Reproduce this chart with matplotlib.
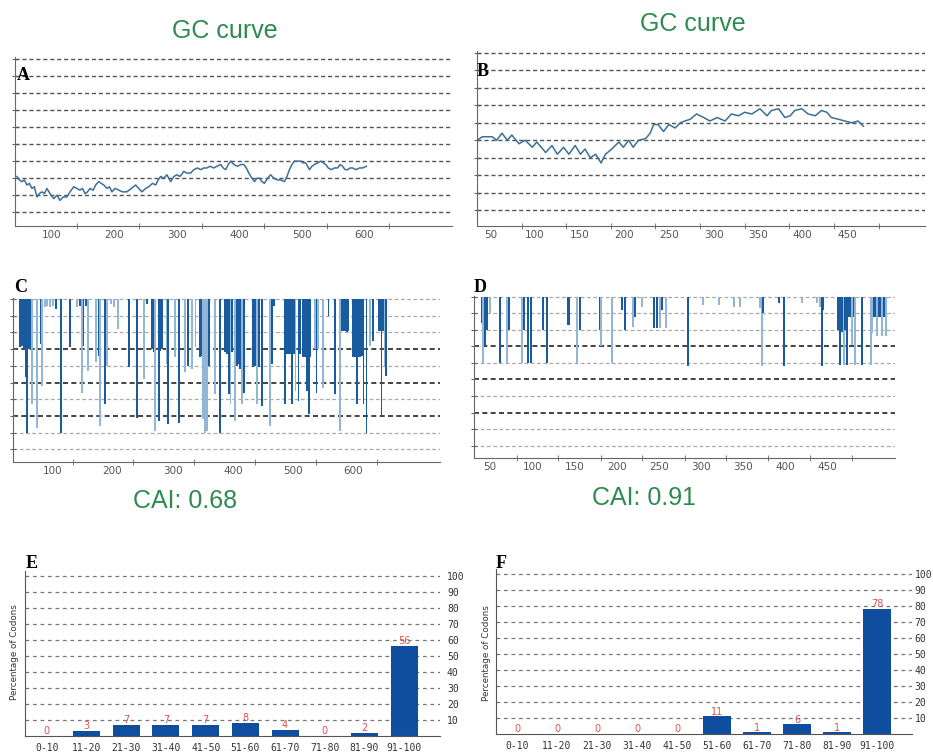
import matplotlib
matplotlib.use('Agg')
import matplotlib.pyplot as plt

# ---- data ----
gc_a_x = [44, 48, 52, 56, 60, 64, 68, 72, 76, 80, 84, 88, 92, 97, 103, 108, 113, 118, 124, 129,
          135, 140, 145, 149, 153, 157, 161, 166, 170, 175, 179, 183, 188, 192, 196, 201, 207, 213, 220, 227,
          234, 239, 244, 250, 255, 261, 266, 270, 274, 279, 284, 287, 290, 295, 300, 305, 311, 316, 322, 327,
          333, 338, 343, 348, 353, 359, 364, 370, 374, 378, 382, 386, 391, 397, 402, 407, 411, 415, 420, 424,
          428, 432, 436, 440, 445, 450, 455, 461, 466, 472, 476, 480, 484, 488, 493, 498, 502, 506, 509, 512,
          516, 520, 525, 530, 534, 538, 542, 547, 552, 557, 561, 565, 569, 573, 577, 581, 586, 592, 597, 603]
gc_a_y = [31, 29, 28, 29, 26, 27, 24, 25, 19, 21, 22, 21, 24, 21, 18, 20, 17, 19, 19, 22,
          25, 24, 23, 24, 21, 22, 24, 23, 26, 28, 27, 26, 24, 25, 22, 24, 23, 22, 22, 24,
          26, 24, 22, 24, 25, 27, 26, 29, 31, 30, 32, 30, 28, 31, 32, 31, 34, 33, 33, 35,
          36, 35, 36, 36, 37, 36, 37, 38, 36, 35, 38, 40, 38, 37, 38, 38, 36, 33, 30, 28,
          30, 30, 28, 27, 30, 32, 30, 29, 29, 28, 31, 35, 38, 40, 40, 40, 39, 39, 37, 35,
          37, 38, 39, 40, 39, 38, 36, 35, 36, 36, 38, 37, 35, 35, 36, 36, 35, 36, 36, 37]

gc_b_x = [35, 41, 46, 52, 57, 63, 69, 74, 82, 89, 97, 102, 112, 119, 125, 132, 138, 145, 151, 156,
          162, 168, 174, 179, 186, 194, 199, 205, 210, 216, 224, 229, 233, 238, 244, 250, 257, 263, 268, 274,
          281, 289, 296, 304, 313, 320, 328, 335, 343, 352, 360, 365, 373, 380, 386, 391, 399, 406, 414, 421,
          427, 432, 440, 447, 455, 462, 468]
gc_b_y = [50, 52, 52, 52, 50, 54, 50, 53, 48, 50, 46, 49, 43, 47, 42, 46, 42, 47, 42, 45,
          40, 42, 37, 42, 45, 49, 46, 50, 46, 50, 51, 54, 59, 59, 55, 59, 57, 60, 61, 62,
          65, 63, 61, 63, 61, 65, 64, 66, 65, 68, 64, 67, 68, 63, 64, 67, 68, 65, 64, 67,
          66, 63, 62, 61, 60, 61, 58]

# codon adaptation plots: position, lowest value, dark(1)/light(0)
c_pos = [47, 50, 53, 56, 58, 61, 64, 67, 75, 81, 83, 88, 92, 97, 102, 106, 115, 130, 141, 146,
         150, 152, 156, 159, 173, 177, 180, 188, 191, 198, 203, 210, 227, 241, 252, 257, 266, 269, 271, 277,
         280, 282, 291, 293, 304, 310, 321, 325, 332, 338, 346, 348, 351, 354, 357, 360, 371, 379, 387, 390,
         393, 396, 398, 404, 407, 410, 412, 415, 418, 434, 437, 440, 443, 448, 462, 465, 468, 487, 490, 493,
         496, 498, 501, 504, 509, 512, 517, 520, 523, 526, 528, 537, 539, 542, 550, 559, 570, 578, 581, 584,
         586, 589, 592, 600, 603, 606, 609, 611, 614, 617, 622, 628, 633, 642, 645, 647, 650, 653, 655]
c_low = [0.71, 0.72, 0.70, 0.53, 0.20, 0.70, 0.70, 0.37, 0.23, 0.73, 0.48, 0.95, 0.96, 0.95, 0.96, 0.94, 0.20, 0.71, 0.95, 0.96,
         0.44, 0.72, 0.96, 0.57, 0.62, 0.66, 0.24, 0.37, 0.60, 0.97, 0.95, 0.82, 0.59, 0.29, 0.52, 0.97, 0.70, 0.68, 0.21, 0.27,
         0.69, 0.70, 0.61, 0.25, 0.65, 0.26, 0.56, 0.60, 0.58, 0.71, 0.65, 0.66, 0.28, 0.20, 0.21, 0.60, 0.43, 0.20, 0.68, 0.67,
         0.43, 0.37, 0.68, 0.27, 0.60, 0.61, 0.58, 0.37, 0.44, 0.59, 0.60, 0.37, 0.59, 0.36, 0.24, 0.61, 0.96, 0.37, 0.67, 0.67,
         0.67, 0.37, 0.67, 0.45, 0.39, 0.67, 0.65, 0.65, 0.45, 0.31, 0.65, 0.70, 0.44, 0.70, 0.47, 0.90, 0.43, 0.21, 0.81, 0.81,
         0.81, 0.80, 0.81, 0.65, 0.65, 0.37, 0.65, 0.65, 0.66, 0.37, 0.20, 0.72, 0.75, 0.81, 0.81, 0.30, 0.81, 0.59, 0.54]
c_dark = [1, 1, 1, 1, 1, 1, 1, 0, 0, 1, 0, 0, 0, 0, 0, 1, 1, 1, 0, 1,
          0, 1, 1, 0, 0, 1, 0, 1, 0, 0, 0, 0, 1, 1, 0, 1, 1, 1, 0, 1,
          1, 1, 0, 1, 0, 1, 0, 1, 0, 0, 1, 1, 0, 0, 0, 1, 0, 1, 1, 1,
          1, 0, 1, 0, 1, 1, 1, 0, 1, 1, 1, 0, 1, 1, 0, 1, 1, 1, 1, 1,
          1, 1, 1, 0, 1, 1, 1, 1, 1, 1, 1, 0, 1, 0, 0, 1, 1, 0, 1, 1,
          1, 1, 1, 1, 1, 1, 1, 1, 1, 1, 1, 0, 1, 1, 1, 1, 1, 0, 1]

d_pos = [40, 42, 44, 46, 50, 62, 70, 72, 88, 90, 95, 99, 113, 117, 143, 153, 157, 180, 182, 194,
         206, 210, 220, 222, 230, 244, 248, 252, 254, 258, 285, 303, 321, 339, 346, 370, 372, 374, 392, 398,
         420, 437, 441, 443, 445, 463, 465, 467, 469, 471, 473, 475, 477, 479, 481, 483, 491, 501, 503, 505,
         507, 509, 511, 513, 515, 517, 519]
d_low = [0.84, 0.60, 0.70, 0.80, 0.90, 0.60, 0.60, 0.80, 0.60, 0.80, 0.60, 0.60, 0.80, 0.60, 0.83, 0.60, 0.80, 0.80, 0.70, 0.60,
         0.92, 0.80, 0.82, 0.88, 0.94, 0.81, 0.81, 0.81, 0.92, 0.81, 0.58, 0.95, 0.95, 0.94, 0.94, 0.93, 0.58, 0.90, 0.96, 0.58,
         0.96, 0.96, 0.94, 0.58, 0.92, 0.80, 0.59, 0.79, 0.59, 0.80, 0.59, 0.88, 0.88, 0.71, 0.88, 0.59, 0.59, 0.59, 0.78, 0.88,
         0.88, 0.76, 0.88, 0.88, 0.76, 0.88, 0.76]
d_dark = [1, 0, 1, 1, 0, 1, 0, 1, 0, 1, 1, 1, 1, 1, 1, 0, 1, 1, 0, 0,
          1, 1, 0, 1, 0, 1, 1, 0, 1, 0, 1, 0, 0, 0, 0, 0, 0, 1, 1, 1,
          0, 0, 0, 1, 1, 1, 1, 1, 0, 1, 1, 1, 1, 0, 1, 0, 1, 0, 0, 1,
          1, 0, 1, 1, 0, 1, 0]

bins = ['0-10', '11-20', '21-30', '31-40', '41-50', '51-60', '61-70', '71-80', '81-90', '91-100']
pct_e = [0, 3, 7, 7, 7, 8, 4, 0, 2, 56]
pct_f = [0, 0, 0, 0, 0, 11, 1, 6, 1, 78]

W, H = 933, 752
GREEN = '#2e8b50'
LINE = '#3c6f96'
DARK = '#1a5a9e'
LIGHT = '#92b6d8'
BAR = '#0f4e9e'

fig = plt.figure(figsize=(W / 100, H / 100), dpi=100)


def box(l, t, r, b):
    return [l / W, 1 - b / H, (r - l) / W, (b - t) / H]


def txt(x, y, s, **kw):
    fig.text(x / W, 1 - y / H, s, **kw)


def base(ax, xlim, ylim, labels, marks, grid):
    ax.set_xlim(xlim)
    ax.set_ylim(ylim)
    for s in ['top', 'right']:
        ax.spines[s].set_visible(False)
    for s in ['left', 'bottom']:
        ax.spines[s].set_color('#666')
    ax.set_xticks(labels)
    ax.tick_params(axis='x', which='major', length=0, labelsize=7.5, labelcolor='#555', pad=3)
    ax.set_xticks(marks, minor=True)
    ax.tick_params(axis='x', which='minor', length=4, direction='inout', color='#666')
    ax.set_yticks(grid)
    ax.set_yticklabels([])
    ax.tick_params(axis='y', length=4, direction='inout', color='#666')


# ---- A / B: GC curves ----
grid_gc = [10, 20, 30, 40, 50, 60, 70, 80, 90, 100]
ax = fig.add_axes(box(15, 57, 452, 226))
base(ax, (41, 740), (2, 101), [100, 200, 300, 400, 500, 600], [140, 240, 340, 440, 540, 640], grid_gc)
for g in grid_gc:
    ax.axhline(g, color='#555', ls=(0, (3, 2)), lw=1)
ax.plot(gc_a_x, gc_a_y, color=LINE, lw=1.1)

ax = fig.add_axes(box(477, 51, 925, 226))
base(ax, (35, 537), (1, 101), [50, 100, 150, 200, 250, 300, 350, 400, 450],
     [85, 135, 185, 235, 285, 335, 385, 435, 485], grid_gc)
for g in grid_gc:
    ax.axhline(g, color='#555', ls=(0, (3, 2)), lw=1)
ax.plot(gc_b_x, gc_b_y, color=LINE, lw=1.1)

# ---- C / D: codon adaptation ----
grid_cai = [0.1, 0.2, 0.3, 0.4, 0.5, 0.6, 0.7, 0.8, 0.9, 1.0]


def cai_panel(rect, xlim, labels, marks, pos, low, dark, width):
    ax = fig.add_axes(rect)
    base(ax, xlim, (0.025, 1.005), labels, marks, grid_cai)
    for g in grid_cai:
        strong = round(g, 1) in (0.3, 0.5, 0.7)
        ax.axhline(g, color='#222' if strong else '#aaa', ls=(0, (3, 2)),
                   lw=1.2 if strong else 0.9, zorder=0)
    cols = [DARK if d else LIGHT for d in dark]
    hts = [1.0 - v for v in low]
    ax.bar(pos, hts, bottom=low, width=width, color=cols, edgecolor='none', zorder=2)
    return ax


cai_panel(box(13, 298, 440, 462), (35, 744), [100, 200, 300, 400, 500, 600],
          [134, 235, 336, 437, 538, 640], c_pos, c_low, c_dark, 3.0)
cai_panel(box(474, 296, 895, 458), (31, 530), [50, 100, 150, 200, 250, 300, 350, 400, 450],
          [82, 131, 181, 230, 281, 330, 379, 429, 479], d_pos, d_low, d_dark, 2.4)

# ---- E / F: codon percentage bars ----


def pct_panel(rect, xlim, vals, ypad):
    ax = fig.add_axes(rect)
    ax.set_xlim(xlim)
    ax.set_ylim(0, 103)
    for s in ['top', 'right']:
        ax.spines[s].set_visible(False)
    for s in ['left', 'bottom']:
        ax.spines[s].set_color('#555')
    for g in grid_gc:
        ax.axhline(g, color='#777', ls=(0, (3, 3)), lw=0.9, zorder=0)
    ax.bar(range(len(vals)), vals, width=0.68, color=BAR, zorder=2)
    for i, v in enumerate(vals):
        ax.text(i, v + 3, str(v), ha='center', va='center', fontsize=7, color='#d9534f')
    ax.set_xticks(range(len(bins)))
    ax.set_xticklabels(bins, family='DejaVu Sans Mono', fontsize=7, color='#333')
    ax.tick_params(axis='x', length=0, pad=5)
    ax.yaxis.tick_right()
    ax.set_yticks(grid_gc)
    ax.set_yticklabels([str(g) for g in grid_gc], family='DejaVu Sans Mono', fontsize=7, color='#333')
    ax.tick_params(axis='y', length=0, pad=ypad)
    return ax


pct_panel(box(25, 571, 440, 736), (-0.55, 9.9), pct_e, 5)
pct_panel(box(496, 569, 912, 734), (-0.525, 9.875), pct_f, 2)
txt(15, 652, 'Percentage of Codons', rotation=90, ha='center', va='center', fontsize=6.3, color='#333')
txt(487, 653, 'Percentage of Codons', rotation=90, ha='center', va='center', fontsize=6.3, color='#333')

# ---- titles and panel letters ----
ttl = dict(ha='center', va='center', fontsize=18, color=GREEN, family='Liberation Sans')
txt(225, 31, 'GC curve', **ttl)
txt(693, 24, 'GC curve', **ttl)
txt(185, 501, 'CAI: 0.68', **ttl)
txt(644, 498, 'CAI: 0.91', **ttl)

let = dict(ha='left', va='center', fontsize=13, fontweight='bold', family='Liberation Serif')
txt(17, 76, 'A', **let)
txt(477, 72, 'B', **let)
txt(14, 287, 'C', **let)
txt(474, 287, 'D', **let)
txt(26, 563, 'E', **let)
txt(496, 563, 'F', **let)

fig.savefig('out.png', dpi=100)
